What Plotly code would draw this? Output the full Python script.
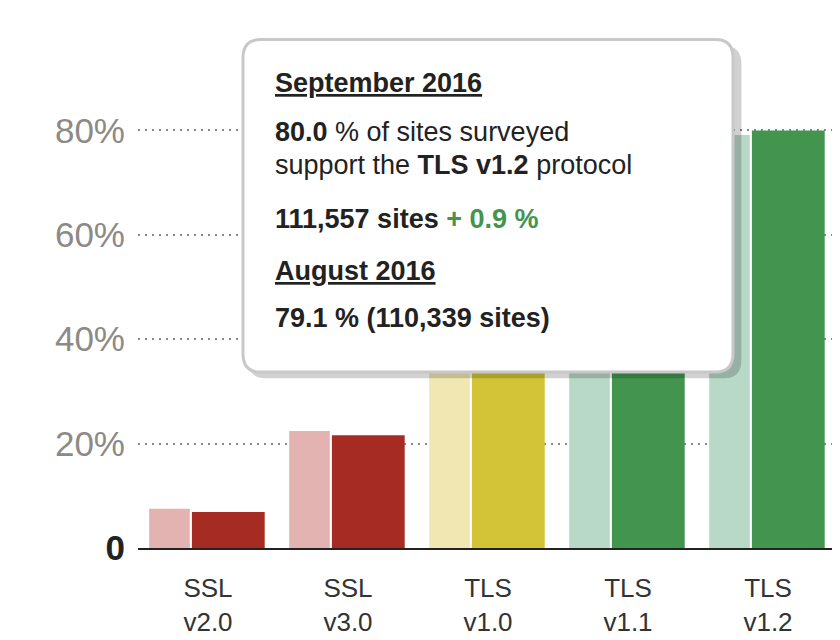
import plotly.graph_objects as go

categories = ["SSL<br>v2.0", "SSL<br>v3.0", "TLS<br>v1.0", "TLS<br>v1.1", "TLS<br>v1.2"]
august = [7.5, 22.4, 97.5, 77.8, 79.1]
september = [6.9, 21.6, 97.3, 78.2, 80.0]
light_colors = ["#e2b3b0", "#e2b3b0", "#f0e7b2", "#b8d8c8", "#b8d8c8"]
dark_colors = ["#a62b22", "#a62b22", "#d2c436", "#43944f", "#43944f"]
tick_vals = [0, 20, 40, 60, 80, 100]
tick_text = ["<span style='color:#222'><b>0</b></span>", "20%", "40%", "60%", "80%", "100%"]

fig = go.Figure()
fig.add_bar(x=categories, y=august, marker=dict(color=light_colors, line=dict(width=0)),
            width=0.29, offset=-0.42, hoverinfo="skip")
fig.add_bar(x=categories, y=september, marker=dict(color=dark_colors, line=dict(width=0)),
            width=0.52, offset=-0.115, hoverinfo="skip")

F = "Liberation Sans, Arial, sans-serif"
fig.update_layout(
    width=840, height=640, barmode="overlay", showlegend=False,
    plot_bgcolor="white", paper_bgcolor="white",
    margin=dict(l=130, r=10, t=18, b=100, autoexpand=False),
    font=dict(family=F),
    xaxis=dict(showline=True, linecolor="#222", linewidth=2, ticks="",
               tickfont=dict(size=26, color="#333"), showgrid=False, ticklabelstandoff=16),
    yaxis=dict(range=[0, 100], tickvals=tick_vals, ticktext=tick_text,
               tickfont=dict(size=35, color="#8d8a85"), showgrid=True,
               gridcolor="#888", griddash="2px,5px", gridwidth=1.5, zeroline=False, ticklen=0,
               ticklabelstandoff=12),
)

def rr(x0, y0, x1, y1, rx, ry):
    return (f"M{x0+rx},{y0} L{x1-rx},{y0} Q{x1},{y0} {x1},{y0+ry} L{x1},{y1-ry} Q{x1},{y1} {x1-rx},{y1} "
            f"L{x0+rx},{y1} Q{x0},{y1} {x0},{y1-ry} L{x0},{y0+ry} Q{x0},{y0} {x0+rx},{y0} Z")

fig.add_shape(type="path", xref="paper", yref="paper", path=rr(0.157, 0.325, 0.862, 0.962, 0.025, 0.035),
              fillcolor="rgba(0,0,0,0.18)", line=dict(width=0))
fig.add_shape(type="path", xref="paper", yref="paper", path=rr(0.15, 0.337, 0.85, 0.974, 0.025, 0.035),
              fillcolor="white", line=dict(color="#c8c8c8", width=3))

lines = [
    (0.891, "<b><span style='text-decoration:underline'>September 2016</span></b>"),
    (0.796, "<b>80.0</b> % of sites surveyed"),
    (0.733, "support the <b>TLS v1.2</b> protocol"),
    (0.630, "<b>111,557 sites <span style='color:#43944f'>+ 0.9 %</span></b>"),
    (0.531, "<b><span style='text-decoration:underline'>August 2016</span></b>"),
    (0.440, "<b>79.1 % (110,339 sites)</b>"),
]
for y, t in lines:
    fig.add_annotation(xref="paper", yref="paper", x=0.193, y=y, text=t, showarrow=False,
                       xanchor="left", yanchor="middle", font=dict(size=27, color="#222", family=F))

fig.write_html("out.html")
